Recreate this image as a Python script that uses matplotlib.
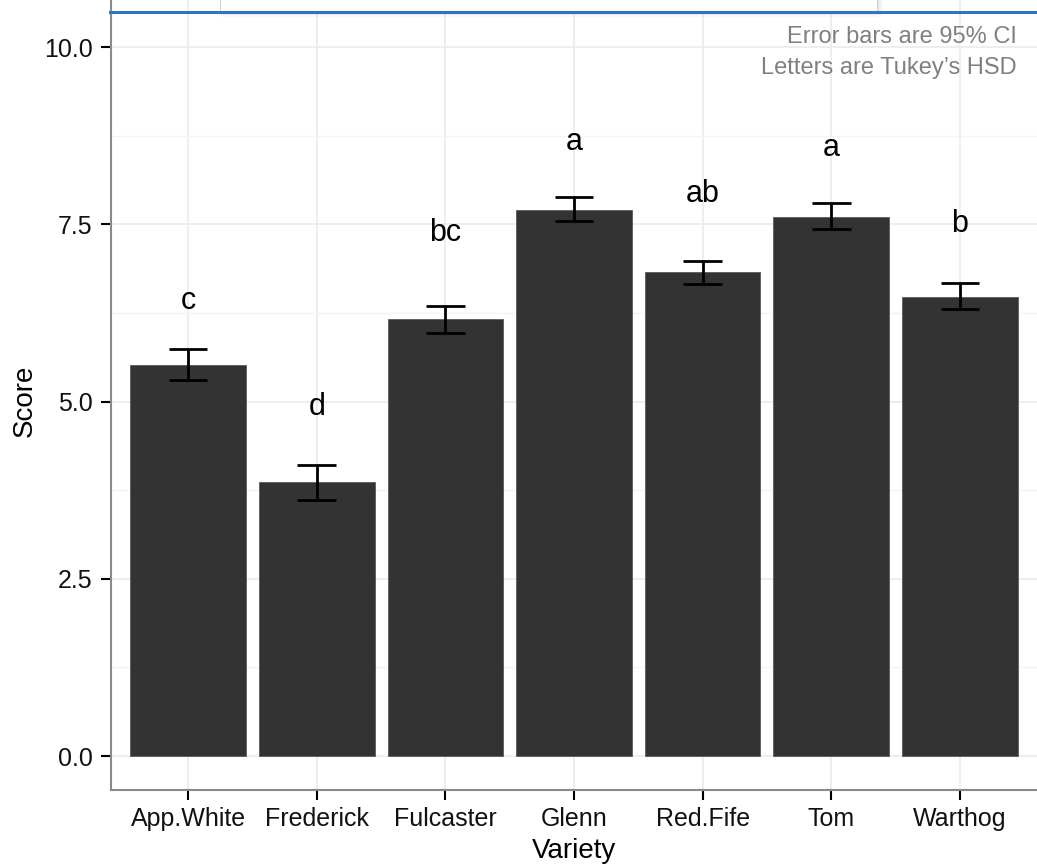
import matplotlib
matplotlib.use("Agg")
import matplotlib.pyplot as plt
from matplotlib.patches import Rectangle
from matplotlib.lines import Line2D
from matplotlib.ticker import FixedLocator

plt.rcParams["font.family"] = ["Liberation Sans", "DejaVu Sans"]

# Mean score per variety with 95% confidence limits and Tukey HSD groups
varieties = ["App.White", "Frederick", "Fulcaster", "Glenn", "Red.Fife", "Tom", "Warthog"]
mean_score = [5.52, 3.86, 6.16, 7.70, 6.82, 7.60, 6.48]
ci_low = [5.30, 3.605, 5.96, 7.545, 6.66, 7.43, 6.31]
ci_high = [5.735, 4.11, 6.35, 7.88, 6.98, 7.795, 6.67]
tukey_letters = ["c", "d", "bc", "a", "ab", "a", "b"]
letter_y = [6.31, 4.81, 7.265, 8.55, 7.81, 8.46, 7.39]
y_major = [0.0, 2.5, 5.0, 7.5, 10.0]
y_minor = [1.25, 3.75, 6.25, 8.75]
notes = ["Error bars are 95% CI", "Letters are Tukey\u2019s HSD"]

W, H = 1037, 867
fig = plt.figure(figsize=(W / 100, H / 100), dpi=100)
fig.patch.set_facecolor("white")
ax = fig.add_axes([111 / W, 77 / H, 926 / W, 1 - 77 / H])

x = list(range(1, len(varieties) + 1))

# grid
ax.set_axisbelow(True)
ax.yaxis.set_major_locator(FixedLocator(y_major))
ax.yaxis.set_minor_locator(FixedLocator(y_minor))
ax.xaxis.set_major_locator(FixedLocator(x))
ax.grid(which="major", color="#ebebeb", lw=1.2)
ax.grid(which="minor", axis="y", color="#f4f4f4", lw=1.0)

# bars
ax.bar(x, mean_score, width=0.9, color="#333333", edgecolor="#5a5a5a", lw=0.6, zorder=2)

# error bars
ax.vlines(x, ci_low, ci_high, color="black", lw=2.0, zorder=3)
ax.hlines(ci_low, [v - 0.15 for v in x], [v + 0.15 for v in x], color="black", lw=2.0, zorder=3)
ax.hlines(ci_high, [v - 0.15 for v in x], [v + 0.15 for v in x], color="black", lw=2.0, zorder=3)

# group letters
for xi, lab, ly in zip(x, tukey_letters, letter_y):
    ax.text(xi, ly, lab, ha="center", va="baseline", fontsize=22, color="black", zorder=4)

ax.set_xlim(0.4, 7.6)
ax.set_ylim(-0.4795, 10.663)

ax.set_xticklabels(varieties)
ax.set_yticklabels([f"{v:.1f}" for v in y_major])
ax.tick_params(axis="both", which="major", length=7.2, width=1.5, color="black",
               labelsize=18, labelcolor="#111111")
ax.tick_params(axis="x", pad=5)
ax.tick_params(axis="y", pad=6)
ax.tick_params(which="minor", length=0)

for side in ["top", "right"]:
    ax.spines[side].set_visible(False)
for side in ["left", "bottom"]:
    ax.spines[side].set_color("#8a8a8a")
    ax.spines[side].set_linewidth(1.5)

# axis titles
fig.text(574 / W, 1 - 851 / H, "Variety", ha="center", va="center", fontsize=20, color="black")
fig.text(25 / W, 1 - 401 / H, "Score", ha="center", va="center", rotation=90,
         fontsize=20, color="black")

# notes in the upper right corner
fig.text(1017 / W, 1 - 43.3 / H, notes[0], ha="right", va="baseline", fontsize=17, color="#808080")
fig.text(1017 / W, 1 - 74.3 / H, notes[1], ha="right", va="baseline", fontsize=17, color="#808080")

# overlay strip along the top edge
for off, a in [(6, 0.025), (4, 0.035), (2, 0.05)]:
    fig.add_artist(Rectangle((220 / W, 1 - (11 + off) / H), (657 + off) / W, (11 + off) / H,
                             transform=fig.transFigure, facecolor="black", alpha=a,
                             edgecolor="none", zorder=10))
fig.add_artist(Rectangle((220 / W, 1 - 11 / H), 657 / W, 12 / H, transform=fig.transFigure,
                         facecolor="white", edgecolor="#d0d0d0", lw=0.7, zorder=11))
fig.add_artist(Line2D([110 / W, 1], [1 - 11.5 / H, 1 - 11.5 / H], transform=fig.transFigure,
                      color="#2f74c2", lw=2.2, zorder=12))

fig.savefig("out.png", dpi=100)
